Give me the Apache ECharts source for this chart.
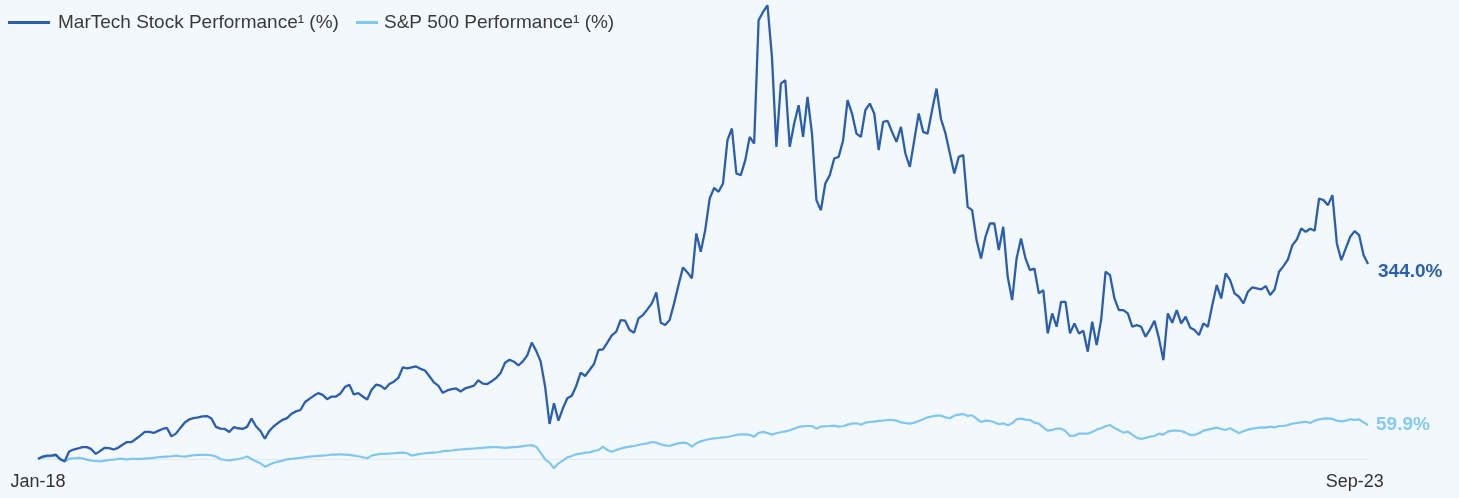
<!DOCTYPE html>
<html>
<head>
<meta charset="utf-8">
<script src="https://cdn.jsdelivr.net/npm/echarts@6/dist/echarts.min.js"></script>
<style>
html,body{margin:0;padding:0;background:#f3f8fd;}
#chart{width:1459px;height:498px;}
</style>
</head>
<body>
<div id="chart"></div>
<script>
// Weekly performance since Jan-2018 (%)
const martech = [
0, 4.2, 6.0, 6.0, 7.7, 0, -4.2, 13.1, 16.7, 18.5,
20.9, 20.9, 17.3, 8.9, 14.3, 19.7, 19.1, 16.7, 19.7, 25.0,
29.8, 29.8, 35.2, 41.1, 47.7, 47.7, 45.9, 49.5, 53.0, 54.8,
39.9, 44.7, 54.8, 64.3, 69.7, 72.1, 73.3, 75.1, 75.7, 71.5,
56.6, 53.6, 53.0, 47.7, 56.0, 54.2, 53.0, 56.6, 71.5, 57.8,
49.5, 35.7, 49.5, 57.8, 63.8, 69.1, 72.1, 79.8, 84.0, 86.4,
100.1, 106.1, 111.4, 116.2, 113.2, 105.5, 110.2, 110.2, 115.6, 126.9,
131.1, 113.8, 116.2, 110.2, 104.9, 122.1, 131.1, 129.3, 123.3, 132.3,
136.4, 143.0, 161.5, 159.7, 161.5, 163.3, 159.1, 156.1, 146.0, 135.2,
129.3, 116.8, 120.9, 123.3, 124.5, 119.2, 124.5, 126.9, 129.3, 138.8,
132.9, 132.3, 137.0, 143.0, 151.9, 169.8, 175.2, 171.6, 165.0, 172.2,
182.9, 205.5, 190.7, 172.3, 128.0, 61.8, 98.2, 67.6, 89.4, 107.0,
111.7, 128.8, 152.3, 146.4, 157.0, 167.6, 192.3, 193.5, 205.2, 218.1,
224.6, 245.2, 244.0, 227.6, 222.8, 248.1, 254.0, 264.0, 274.6, 294.0,
240.5, 236.4, 245.2, 274.6, 306.9, 338.1, 329.2, 318.7, 398.0, 365.7,
403.9, 459.7, 478.5, 471.5, 486.2, 562.6, 583.2, 503.8, 500.9, 527.3,
568.5, 556.7, 774.2, 788.9, 800.7, 709.6, 550.8, 662.5, 668.4, 550.8,
592.0, 624.3, 568.5, 639.0, 574.3, 456.8, 439.1, 486.2, 500.9, 530.3,
533.2, 562.6, 633.1, 609.6, 574.3, 568.5, 615.5, 627.3, 609.6, 545.0,
594.9, 596.7, 577.3, 559.6, 586.1, 539.1, 515.5, 562.6, 609.6, 577.3,
574.3, 615.5, 653.7, 600.0, 575.0, 539.1, 503.8, 533.2, 536.1, 445.0,
439.1, 386.2, 353.9, 392.1, 415.6, 415.6, 368.6, 409.7, 321.5, 280.4,
353.9, 389.2, 353.9, 333.3, 336.2, 292.2, 298.0, 221.6, 256.9, 233.4,
277.4, 277.4, 221.6, 239.2, 221.6, 226.3, 189.3, 242.2, 201.0, 245.1,
330.4, 324.5, 283.3, 262.7, 262.7, 256.9, 233.4, 236.3, 233.4, 215.7,
228.7, 243.9, 212.8, 174.6, 256.9, 240.4, 262.7, 239.2, 251.0, 232.2,
227.5, 218.7, 239.3, 233.4, 271.6, 306.9, 283.3, 327.5, 315.7, 292.2,
286.3, 274.5, 295.1, 302.8, 301.0, 299.2, 305.1, 289.2, 299.2, 330.4,
340.4, 352.1, 377.4, 387.4, 406.8, 400.9, 406.2, 402.7, 459.7, 456.8,
448.0, 465.6, 380.4, 351.0, 371.6, 392.1, 402.1, 395.1, 359.8, 344.0
];
const sp500 = [
0, 2.4, 4.2, 4.8, 5.4, -1.8, -4.8, 0.6, 1.2, 1.8,
1.2, -1.2, -3.0, -3.6, -4.2, -3.0, -1.8, -1.2, 0, 0,
-0.6, 0, 0, 0, 0.6, 1.2, 1.8, 3.0, 3.6, 4.2,
4.8, 6.0, 4.8, 4.2, 5.4, 6.6, 7.1, 7.1, 7.1, 6.6,
4.2, 0, -1.8, -2.4, -1.2, 0, 1.8, 4.2, 0, -4.2,
-7.7, -13.7, -10.1, -6.6, -4.8, -3.0, -0.6, 0, 1.2, 1.8,
3.0, 4.2, 4.8, 5.4, 6.0, 6.6, 7.7, 7.7, 8.3, 7.7,
7.1, 6.0, 4.8, 3.0, 1.2, 6.0, 7.7, 8.9, 8.9, 9.5,
10.1, 10.7, 11.3, 10.1, 6.0, 7.7, 8.9, 10.1, 10.7, 11.3,
11.9, 13.7, 14.3, 14.9, 16.1, 16.7, 17.3, 17.9, 18.5, 19.1,
19.7, 20.3, 20.9, 20.9, 20.3, 19.7, 20.3, 20.9, 21.4, 22.6,
23.8, 24.4, 21.7, 11.1, -0.6, -6.5, -16.5, -7.7, -2.9, 2.9,
5.3, 8.2, 9.4, 11.1, 11.7, 14.1, 15.8, 21.7, 15.8, 12.9,
15.8, 18.2, 20.5, 21.7, 22.9, 24.7, 26.4, 27.6, 30.0, 28.8,
25.8, 24.1, 22.9, 25.8, 27.6, 28.8, 27.6, 21.7, 27.6, 31.1,
33.5, 35.2, 36.4, 37.0, 38.2, 38.8, 40.6, 42.4, 43.5, 43.5,
42.4, 39.4, 45.9, 47.7, 45.9, 43.0, 45.3, 47.1, 48.8, 50.6,
53.5, 56.5, 57.7, 58.2, 58.2, 53.5, 57.1, 57.7, 58.2, 58.8,
57.1, 57.7, 60.6, 62.4, 63.0, 60.6, 64.1, 65.3, 65.9, 67.1,
67.6, 68.8, 68.8, 67.6, 64.7, 63.5, 62.4, 64.1, 67.1, 70.0,
73.5, 75.3, 76.5, 76.5, 73.5, 71.8, 76.5, 78.2, 79.4, 75.9,
77.1, 71.2, 65.3, 67.6, 67.1, 64.7, 61.2, 62.9, 59.4, 62.9,
70.0, 71.2, 69.4, 68.8, 64.1, 62.4, 55.9, 50.0, 51.2, 53.5,
53.5, 49.4, 40.6, 41.2, 44.7, 44.7, 44.7, 47.7, 51.8, 54.1,
57.7, 60.0, 54.7, 50.6, 46.5, 48.2, 43.0, 37.7, 35.3, 37.1,
39.4, 40.6, 44.7, 43.0, 48.2, 50.0, 50.0, 49.4, 46.5, 42.4,
42.3, 45.3, 49.9, 51.7, 53.5, 55.3, 52.9, 51.1, 54.1, 49.9,
45.8, 48.8, 51.7, 53.5, 54.7, 55.8, 55.3, 57.0, 55.8, 58.2,
58.2, 60.0, 62.3, 63.5, 64.7, 65.8, 63.5, 67.6, 70.0, 71.1,
71.7, 70.6, 67.6, 66.4, 67.6, 70.0, 68.8, 70.0, 64.7, 59.9
];
const tickLabels = ['Jan-18', 'Sep-23'];
const seriesNames = ['MarTech Stock Performance\u00B9 (%)', 'S&P 500 Performance\u00B9 (%)'];

// weekly category labels starting the first week of Jan-2018
const monthNames = ['Jan','Feb','Mar','Apr','May','Jun','Jul','Aug','Sep','Oct','Nov','Dec'];
const startMs = Date.UTC(2018, 0, 1);
const categories = martech.map((_, i) => {
  const d = new Date(startMs + i * 7 * 86400000);
  return monthNames[d.getUTCMonth()] + '-' + String(d.getUTCFullYear()).slice(2);
});

const darkBlue = '#2b5fab';
const lightBlue = '#7fc6f1';
const font = '"Liberation Sans", Arial, Helvetica, sans-serif';

const chart = echarts.init(document.getElementById('chart'), null, {renderer: 'canvas'});
chart.setOption({
  backgroundColor: '#f3f8fd',
  animation: false,
  textStyle: {fontFamily: font},
  legend: [
    {
      data: [seriesNames[0]], left: 3, top: 8, icon: 'rect',
      itemWidth: 42, itemHeight: 3,
      textStyle: {fontSize: 19, color: '#3a3a3a', fontFamily: font, padding: [0, 0, 0, 3]}
    },
    {
      data: [seriesNames[1]], left: 351, top: 8, icon: 'rect',
      itemWidth: 22, itemHeight: 3,
      textStyle: {fontSize: 19, color: '#3a3a3a', fontFamily: font, padding: [0, 0, 0, 1]}
    }
  ],
  grid: {left: 38, right: 91, top: 0, bottom: 27.7, containLabel: false, outerBoundsMode: 'none'},
  xAxis: {
    type: 'category',
    data: categories,
    boundaryGap: false,
    axisLine: {show: false, onZero: false},
    axisTick: {show: false},
    splitLine: {show: false},
    axisLabel: {
      show: true,
      margin: 3,
      fontSize: 18,
      color: '#333333',
      fontFamily: font,
      interval: (idx, val) => tickLabels.includes(val) && categories.indexOf(val) === idx
    }
  },
  yAxis: {
    type: 'value',
    min: -20,
    max: 810,
    axisLine: {show: false},
    axisTick: {show: false},
    axisLabel: {show: false},
    splitLine: {show: false}
  },
  series: [
    {
      name: seriesNames[0],
      type: 'line',
      data: martech,
      showSymbol: false,
      symbol: 'none',
      color: darkBlue,
      lineStyle: {color: darkBlue, width: 2.3},
      z: 3,
      endLabel: {
        show: true,
        distance: 10,
        offset: [0, 8],
        formatter: p => p.value.toFixed(1) + '%',
        color: darkBlue,
        fontSize: 19,
        fontWeight: 'bold',
        fontFamily: font
      }
    },
    {
      name: seriesNames[1],
      type: 'line',
      data: sp500,
      showSymbol: false,
      symbol: 'none',
      color: lightBlue,
      lineStyle: {color: lightBlue, width: 2.2},
      z: 2,
      markLine: {
        silent: true,
        symbol: 'none',
        label: {show: false},
        lineStyle: {color: '#e2e8ef', width: 1, type: 'solid'},
        data: [{yAxis: 0}],
        z: 1
      },
      endLabel: {
        show: true,
        distance: 8,
        formatter: p => p.value.toFixed(1) + '%',
        color: '#86c9f1',
        fontSize: 19,
        fontWeight: 'bold',
        fontFamily: font
      }
    }
  ]
});
</script>
</body>
</html>
